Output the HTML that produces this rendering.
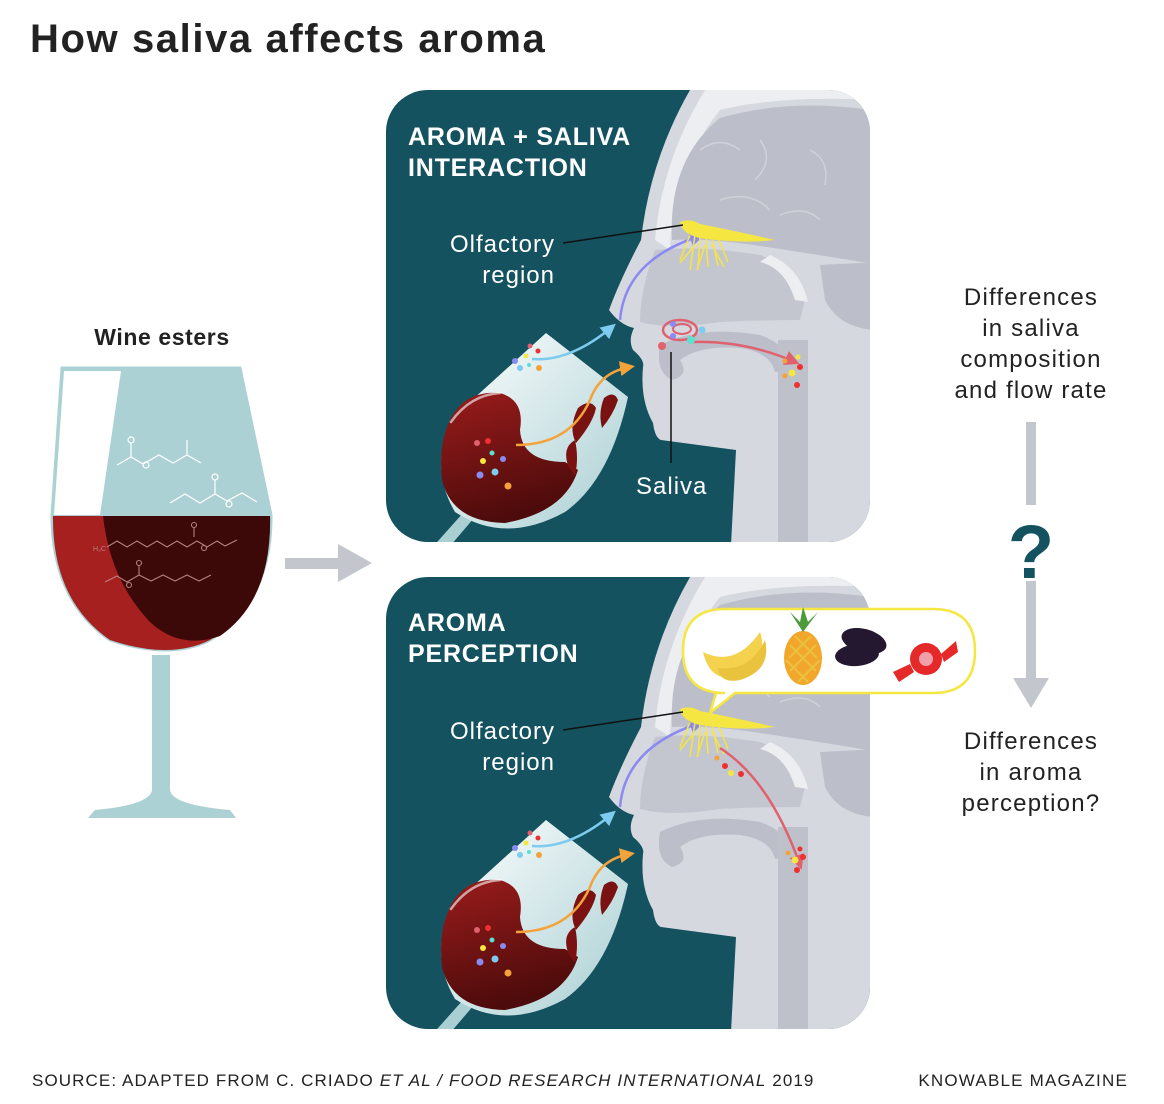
<!DOCTYPE html>
<html><head><meta charset="utf-8"><style>
html,body{margin:0;padding:0;background:#fff;}
body{width:1164px;height:1104px;overflow:hidden;font-family:"Liberation Sans",sans-serif;}
svg{display:block}
</style></head><body>
<svg width="1164" height="1104" viewBox="0 0 1164 1104" xmlns="http://www.w3.org/2000/svg">
<defs>
 <clipPath id="pc"><rect x="386" y="90" width="484" height="452" rx="42"/></clipPath>
 <linearGradient id="gl" x1="0" y1="0" x2="1" y2="1"><stop offset="0" stop-color="#ffffff"/><stop offset="1" stop-color="#a9cfd3"/></linearGradient>
 <linearGradient id="wn" x1="0" y1="0" x2="0.3" y2="1"><stop offset="0" stop-color="#9a1c1c"/><stop offset="1" stop-color="#4e0b0b"/></linearGradient>
 <marker id="ab" markerWidth="6" markerHeight="6" refX="4" refY="3" orient="auto"><path d="M0,0 L6,3 L0,6 Z" fill="#7ecbf0"/></marker>
 <marker id="ao" markerWidth="6" markerHeight="6" refX="4" refY="3" orient="auto"><path d="M0,0 L6,3 L0,6 Z" fill="#f4a23a"/></marker>
 <marker id="ap" markerWidth="6" markerHeight="6" refX="4" refY="3" orient="auto"><path d="M0,0 L6,3 L0,6 Z" fill="#8a8af2"/></marker>
 <marker id="ar" markerWidth="6" markerHeight="6" refX="4" refY="3" orient="auto"><path d="M0,0 L6,3 L0,6 Z" fill="#e0606e"/></marker>
 <g id="base">
  <g clip-path="url(#pc)">
   <rect x="386" y="90" width="484" height="452" fill="#14525f"/>
   <path d="M690,90 Q650,160 641,240 Q620,280 609,310 Q620,325 634,328 Q628,340 633,350 Q645,360 643,367 Q640,400 653,423 Q655,438 661,440 L736,450 L731,545 L880,545 L880,90 Z" fill="#d6d8df"/>
   <path d="M705,90 Q662,160 655,240 L670,250 Q672,170 720,110 Q780,95 880,100 L880,90 Z" fill="#eceef1"/>
   <path d="M672,240 Q668,160 720,118 Q790,98 870,110 L880,110 L880,265 Q820,255 760,246 Q710,238 672,240 Z" fill="#bcbfc9"/>
   <path d="M820,265 L880,262 L880,330 Q840,330 825,300 Z" fill="#bcbfc9"/>
   <path d="M700,150 q20,-15 40,0 M760,140 q15,20 -5,40 M810,150 q20,10 15,35 M720,200 q30,-10 50,10 M780,215 q25,-10 40,5" stroke="#d0d2d9" stroke-width="1.5" fill="none"/>
   <path d="M655,250 Q700,245 760,255 Q790,265 805,300 L800,320 Q760,320 720,322 Q670,330 640,322 Q640,290 655,250 Z" fill="#c3c6cf"/>
   <path d="M760,262 Q785,268 795,300 L808,302 Q800,268 770,255 Z" fill="#eceef1"/>
   <path d="M660,345 Q700,325 760,335 Q790,345 790,370 L775,372 Q770,352 740,348 Q700,345 680,360 Q690,375 672,380 Q655,372 660,345 Z" fill="#bcbfc9"/>
   <rect x="778" y="340" width="30" height="210" fill="#bec1ca"/>
   <path d="M463,513 L430,550 L445,552 L474,518 Z" fill="#a9cfd3"/>
   <path d="M546,333 L628,397 Q610,480 565,512 Q505,545 455,512 Q430,470 450,420 Z" fill="url(#gl)"/>
   <path d="M450,420 Q465,390 500,393 Q525,400 520,430 Q522,462 565,462 L578,470 Q565,512 505,523 Q452,522 442,480 Q438,445 450,420 Z" fill="url(#wn)"/>
   <path d="M578,408 q12,-10 18,0 q-3,15 -20,35 q-8,-15 2,-35Z M604,398 q10,-8 14,2 q-5,15 -16,28 q-4,-15 2,-30Z M575,440 q-14,8 -6,28 l6,8 q4,-18 0,-36Z" fill="#7a1212"/>
   <path d="M451,422 Q470,395 500,393" stroke="#fff" opacity="0.6" fill="none" stroke-width="2.5" stroke-linecap="round"/>
   <circle cx="477" cy="443" r="3" fill="#e0606e"/><circle cx="488" cy="441" r="3" fill="#ee3030"/>
   <circle cx="492" cy="453" r="2.5" fill="#5ee0d0"/><circle cx="483" cy="461" r="3" fill="#f5e642"/>
   <circle cx="503" cy="459" r="3" fill="#8a8af2"/><circle cx="480" cy="475" r="3.5" fill="#8a8af2"/>
   <circle cx="495" cy="472" r="3.5" fill="#7ecbf0"/><circle cx="508" cy="486" r="3.5" fill="#f4a23a"/>
   <circle cx="530" cy="346" r="2.5" fill="#e0606e"/><circle cx="538" cy="351" r="2.5" fill="#ee3030"/>
   <circle cx="526" cy="356" r="2.5" fill="#f5e642"/><circle cx="515" cy="361" r="3" fill="#8a8af2"/>
   <circle cx="520" cy="368" r="3" fill="#7ecbf0"/><circle cx="529" cy="365" r="2" fill="#5ee0d0"/>
   <circle cx="539" cy="368" r="3" fill="#f4a23a"/>
   <path d="M532,359 Q570,362 612,327" stroke="#7ecbf0" stroke-width="2.5" fill="none" marker-end="url(#ab)"/>
   <path d="M516,445 Q570,445 590,400 Q600,372 630,367" stroke="#f4a23a" stroke-width="2.5" fill="none" marker-end="url(#ao)"/>
   <path d="M620,320 Q625,260 700,236" stroke="#8a8af2" stroke-width="2.5" fill="none" marker-end="url(#ap)"/>
   <g stroke="#f5e642" stroke-width="1.5" fill="none">
    <path d="M690,235 l-10,25 M695,235 l-5,35 M700,236 l-2,33 M706,237 l2,30 M712,238 l6,28 M718,238 l10,24 M695,245 l-15,18 M705,245 l-8,25 M712,245 l12,22"/>
   </g>
   <path d="M680,222 Q690,218 700,224 Q740,232 775,240 Q740,244 700,238 Q682,234 680,222 Z" fill="#f5e642"/>
  </g>
 </g>
</defs>

<text x="30" y="52" font-size="40" font-weight="bold" fill="#222" letter-spacing="1.6">How saliva affects aroma</text>

<text x="162" y="345" font-size="23" font-weight="bold" fill="#222" text-anchor="middle" letter-spacing="0.6">Wine esters</text>
<path d="M62,368 L240,368 L271,515 Q272,600 210,640 Q170,660 110,640 Q52,600 52,515 Z" fill="#acd1d5" stroke="#acd1d5" stroke-width="3"/>
<path d="M64,371 L121,371 L100,515 L54,515 Z" fill="#fff"/>
<path d="M53,516 L270,516 Q272,600 210,640 Q170,660 110,640 Q52,600 53,516 Z" fill="#a5201f"/>
<path d="M103,516 L270,516 Q272,600 220,636 Q180,650 150,622 Q110,580 103,516 Z" fill="#3d0808"/>
<rect x="152" y="655" width="18" height="140" fill="#acd1d5"/>
<path d="M152,790 Q150,805 95,810 L88,818 L236,818 L230,810 Q172,805 170,790 Z" fill="#acd1d5"/>
<g stroke="#fff" stroke-width="1.2" fill="none">
 <path d="M117,465 l14,-8 l12,7 l16,-9 l14,8 l14,-8 l14,8 M131,457 v-14 M187,456 v-16"/>
 <circle cx="131" cy="440" r="3"/><circle cx="146" cy="465" r="3"/>
 <path d="M170,503 l15,-9 l15,9 l15,-9 l12,7 l15,-8 l15,9 M215,494 v-14"/>
 <circle cx="215" cy="477" r="3"/><circle cx="229" cy="504" r="3"/>
</g>
<g stroke="#b98080" stroke-width="1.1" fill="none">
 <path d="M107,547 l10,-6 l10,6 l10,-6 l10,6 l10,-6 l10,6 l10,-6 l10,6 l10,-6 l10,6 l10,-6 l8,5 l12,-6 M194,537 v-10"/>
 <circle cx="194" cy="525" r="2.5"/><circle cx="204" cy="548" r="2.5"/>
 <path d="M105,582 l12,-6 l10,6 l12,-7 l12,6 l12,-6 l12,6 l12,-6 l12,6 l12,-6 M139,575 v-9"/>
 <circle cx="129" cy="585" r="2.5"/><circle cx="139" cy="563" r="2.5"/>
</g>
<text x="93" y="551" font-size="7" fill="#b98080">H₃C</text>

<rect x="285" y="558" width="56" height="11" fill="#c4c6ce"/>
<path d="M338,544 L372,563 L338,582 Z" fill="#c4c6ce"/>

<use href="#base"/>
<g>
 <ellipse cx="680" cy="330" rx="17" ry="10" fill="none" stroke="#e0606e" stroke-width="2.5"/>
 <ellipse cx="682" cy="329" rx="9" ry="5" fill="none" stroke="#e0606e" stroke-width="2"/>
 <path d="M690,342 Q745,340 795,362" stroke="#e0606e" stroke-width="2.5" fill="none" marker-end="url(#ar)"/>
 <circle cx="662" cy="346" r="4" fill="#e0606e"/><circle cx="673" cy="324" r="3" fill="#8a8af2"/>
 <circle cx="673" cy="336" r="3" fill="#8a8af2"/><circle cx="702" cy="330" r="3.5" fill="#7ecbf0"/>
 <circle cx="691" cy="340" r="4" fill="#5ee0d0"/>
 <circle cx="785" cy="361" r="2.5" fill="#f4a23a"/><circle cx="798" cy="357" r="2.5" fill="#f5e642"/>
 <circle cx="800" cy="367" r="3" fill="#ee3030"/><circle cx="792" cy="373" r="3.5" fill="#f5e642"/>
 <circle cx="785" cy="376" r="2.5" fill="#f4a23a"/><circle cx="797" cy="385" r="3" fill="#ee3030"/>
 <line x1="671" y1="352" x2="671" y2="463" stroke="#111" stroke-width="1.5"/>
 <line x1="563" y1="243" x2="683" y2="225" stroke="#111" stroke-width="1.5"/>
 <text x="408" y="145" font-size="25" font-weight="bold" fill="#fff" letter-spacing="0.8">AROMA + SALIVA</text>
 <text x="408" y="176" font-size="25" font-weight="bold" fill="#fff" letter-spacing="0.8">INTERACTION</text>
 <text x="555" y="252" font-size="24" fill="#fff" text-anchor="end" letter-spacing="1">Olfactory</text>
 <text x="555" y="283" font-size="24" fill="#fff" text-anchor="end" letter-spacing="1">region</text>
 <text x="636" y="494" font-size="24" fill="#fff" letter-spacing="1">Saliva</text>
</g>

<use href="#base" y="487"/>
<g>
 <path d="M720,748 Q770,780 800,865" stroke="#e0606e" stroke-width="2.5" fill="none" marker-end="url(#ar)"/>
 <circle cx="717" cy="758" r="2.5" fill="#f4a23a"/><circle cx="725" cy="766" r="3" fill="#ee3030"/>
 <circle cx="731" cy="773" r="3" fill="#f5e642"/><circle cx="741" cy="774" r="3" fill="#ee3030"/>
 <circle cx="788" cy="853" r="2.5" fill="#f4a23a"/><circle cx="800" cy="849" r="2.5" fill="#ee3030"/>
 <circle cx="795" cy="860" r="3.5" fill="#f5e642"/><circle cx="803" cy="857" r="3" fill="#ee3030"/>
 <circle cx="797" cy="870" r="3" fill="#ee3030"/>
 <line x1="563" y1="730" x2="683" y2="712" stroke="#111" stroke-width="1.5"/>
 <text x="408" y="631" font-size="25" font-weight="bold" fill="#fff" letter-spacing="0.8">AROMA</text>
 <text x="408" y="662" font-size="25" font-weight="bold" fill="#fff" letter-spacing="0.8">PERCEPTION</text>
 <text x="555" y="739" font-size="24" fill="#fff" text-anchor="end" letter-spacing="1">Olfactory</text>
 <text x="555" y="770" font-size="24" fill="#fff" text-anchor="end" letter-spacing="1">region</text>
 <path d="M725,609 L933,609 Q975,609 975,651 Q975,693 933,693 L735,693 L710,713 L716,693 L725,693 Q683,693 683,651 Q683,609 725,609 Z" fill="#fff" stroke="#f5e642" stroke-width="2.5"/>
 <path d="M703,652 Q735,668 760,632 Q770,660 735,677 Q710,682 703,652 Z" fill="#f4d24e"/>
 <path d="M718,668 Q750,672 765,640 Q772,670 740,680 Q720,684 718,668 Z" fill="#e9c23e"/>
 <ellipse cx="803" cy="658" rx="19" ry="27" fill="#f2a62c"/>
 <path d="M790,645 l26,26 M786,660 l22,22 M795,636 l22,22 M816,645 l-26,26 M820,660 l-22,22 M811,636 l-22,22" stroke="#e9c23e" stroke-width="2"/>
 <path d="M803,632 L790,612 L800,622 L803,607 L808,622 L818,612 Z" fill="#4c9a3a"/>
 <ellipse cx="864" cy="641" rx="23" ry="12" fill="#241830" transform="rotate(15 864 641)"/>
 <ellipse cx="857" cy="655" rx="22" ry="11" fill="#241830" transform="rotate(-5 857 655)"/>
 <circle cx="926" cy="659" r="16" fill="#e52828"/>
 <path d="M910,664 L893,672 L899,682 L914,672 Z M941,654 L956,641 L958,652 L944,662 Z" fill="#e52828"/>
 <circle cx="926" cy="659" r="7" fill="#f0a0aa"/>
</g>

<g font-size="24" fill="#222" text-anchor="middle" letter-spacing="1.2">
 <text x="1031" y="305">Differences</text>
 <text x="1031" y="336">in saliva</text>
 <text x="1031" y="367">composition</text>
 <text x="1031" y="398">and flow rate</text>
 <text x="1031" y="749">Differences</text>
 <text x="1031" y="780">in aroma</text>
 <text x="1031" y="811">perception?</text>
</g>
<rect x="1026" y="422" width="10" height="260" fill="#c4c6ce"/>
<path d="M1013,678 L1049,678 L1031,708 Z" fill="#c4c6ce"/>
<rect x="1010" y="505" width="42" height="76" fill="#fff"/>
<text x="1031" y="578" font-size="76" font-weight="bold" fill="#14525f" text-anchor="middle">?</text>

<text x="32" y="1086" font-size="17" fill="#222" letter-spacing="1.1">SOURCE: ADAPTED FROM C. CRIADO <tspan font-style="italic">ET AL / FOOD RESEARCH INTERNATIONAL</tspan> 2019</text>
<text x="1128" y="1086" font-size="17" fill="#222" text-anchor="end" letter-spacing="1.2">KNOWABLE MAGAZINE</text>
</svg>
</body></html>
